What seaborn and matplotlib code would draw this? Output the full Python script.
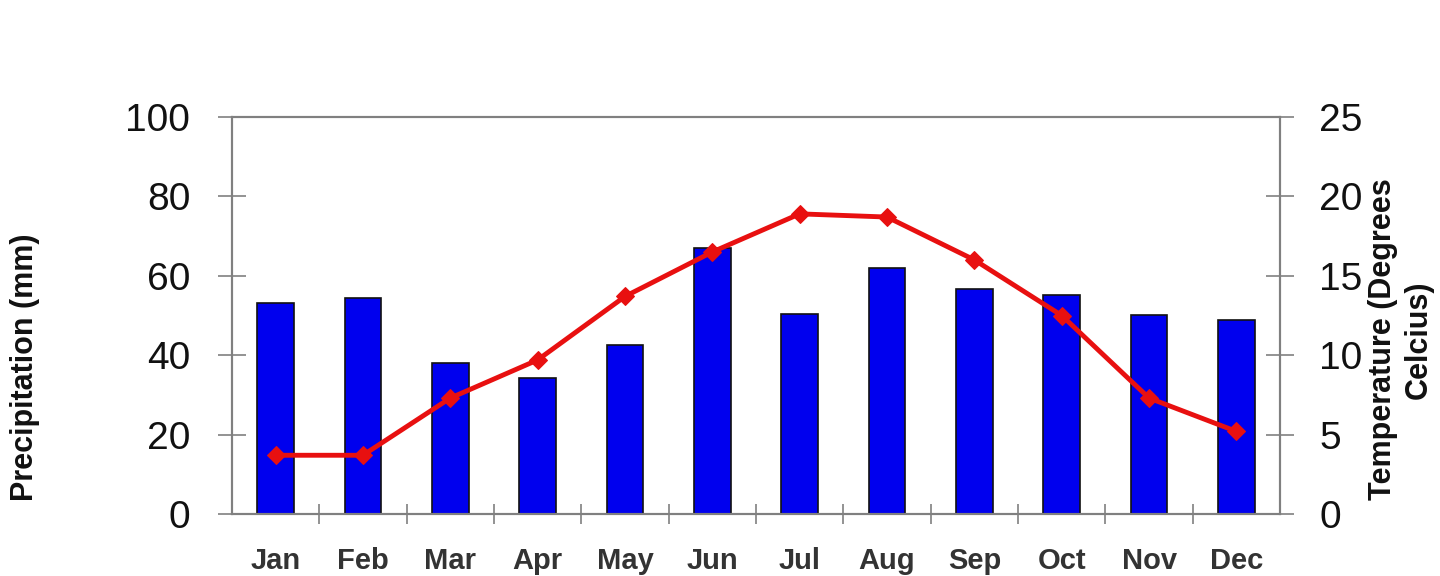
import numpy as np
import pandas as pd
import matplotlib
matplotlib.use('Agg')
import matplotlib.pyplot as plt
import seaborn as sns
from matplotlib.ticker import FixedLocator

months = ['Jan', 'Feb', 'Mar', 'Apr', 'May', 'Jun', 'Jul', 'Aug', 'Sep', 'Oct', 'Nov', 'Dec']
precip_mm = [53.2, 54.3, 38, 34.2, 42.6, 67.1, 50.4, 61.9, 56.8, 55.1, 50.2, 48.9]
temp_c = [3.7, 3.7, 7.3, 9.7, 13.7, 16.5, 18.9, 18.7, 16.0, 12.5, 7.3, 5.2]

df = pd.DataFrame({'month': months, 'precip': precip_mm, 'temp': temp_c})

sns.set_style('white')
plt.rcParams['font.family'] = ['Liberation Sans', 'DejaVu Sans']

fig = plt.figure(figsize=(14.4, 5.76), dpi=100)
ax = fig.add_axes([0.161, 0.1076, 0.728, 0.6893])

# precipitation bars
sns.barplot(data=df, x='month', y='precip', color='#0000ee', saturation=1,
            width=0.42, edgecolor='#111111', linewidth=1.2, ax=ax)
ax.set_ylim(0, 100)
ax.set_yticks([0, 20, 40, 60, 80, 100])
ax.set_xlim(-0.5, 11.5)

# temperature line on second axis
ax2 = ax.twinx()
sns.lineplot(data=df, x='month', y='temp', color='#e81010', linewidth=3.5,
             marker='D', markersize=9, markeredgecolor='#e81010', ax=ax2)
ax2.set_ylim(0, 25)
ax2.set_yticks([0, 5, 10, 15, 20, 25])
ax2.set_xlim(-0.5, 11.5)

for a in (ax, ax2):
    for s in a.spines.values():
        s.set_color('#808080')
        s.set_linewidth(1.5)
        s.set_visible(True)

ax.tick_params(axis='y', direction='inout', length=20, width=1.2, color='#808080',
               labelsize=28, labelcolor='#111111', pad=20, left=True)
ax2.tick_params(axis='y', direction='inout', length=20, width=1.2, color='#808080',
                labelsize=28, labelcolor='#111111', pad=18, right=True)

# month labels, with marks between the months
ax.xaxis.set_minor_locator(FixedLocator(np.arange(0.5, 11, 1)))
ax.tick_params(axis='x', which='major', length=0, pad=24, labelsize=21)
ax.tick_params(axis='x', which='minor', direction='inout', length=14, width=1.2,
               color='#808080', bottom=True)
for lbl in ax.get_xticklabels():
    lbl.set_fontweight('bold')
    lbl.set_color('#333333')

ax.set_xlabel('')
ax.set_ylabel('Precipitation (mm)', fontsize=22, fontweight='bold', color='#111111')
ax.yaxis.set_label_coords(-0.183, 0.37)
ax2.set_ylabel('Temperature (Degrees\nCelcius)', fontsize=22, fontweight='bold',
               color='#111111', rotation=90, linespacing=1.25)
ax2.yaxis.set_label_coords(1.084, 0.44)

ax2.set_zorder(ax.get_zorder() + 1)
ax2.patch.set_visible(False)

fig.savefig('out.png', dpi=100)
